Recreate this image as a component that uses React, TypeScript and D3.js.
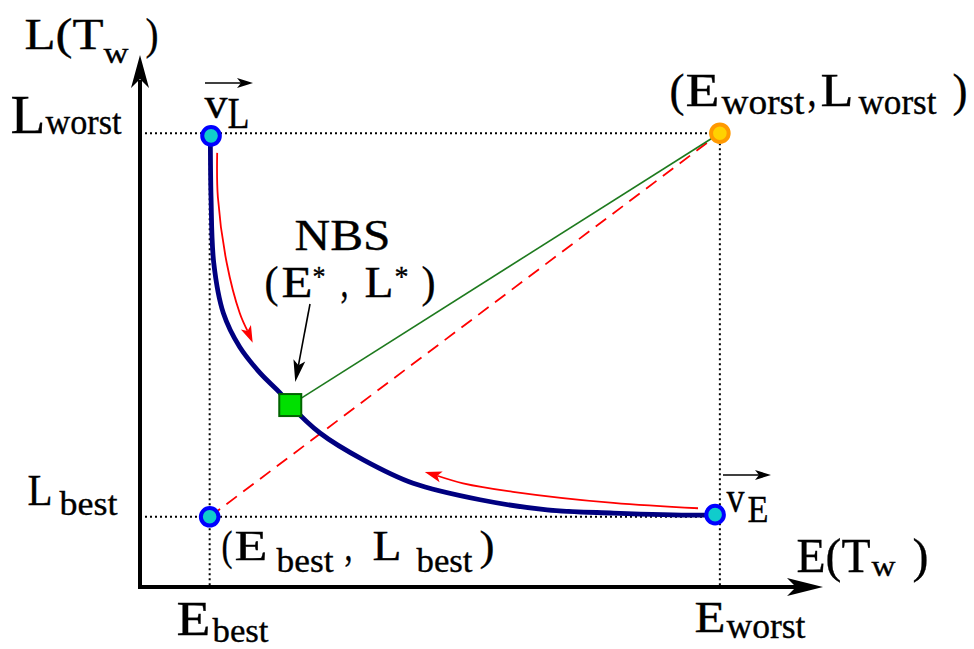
import React from "react";
import * as d3 from "d3";

// Reference levels on each axis
const E_BEST = 10.2;
const E_WORST = 84.9;
const L_BEST = 13.2;
const L_WORST = 85.3;

// Pareto front from v_L (best latency) to v_E (best energy)
const frontE = [10.3, 10.4, 10.8, 12.2, 14.6, 17.6, 20.5, 22.0, 26.4, 32.7, 40.0, 49.8, 59.6, 69.3, 81.6, 84.2];
const frontL = [84.7, 73.3, 60.9, 51.5, 45.1, 40.2, 36.5, 34.2, 28.9, 23.9, 19.5, 16.4, 14.5, 13.9, 13.5, 13.6];

// Nash bargaining solution
const nbsE = 22.0;
const nbsL = 34.2;

// Search-direction arrows alongside the front
const sweepDownE = [11.3, 11.4, 12.7, 14.6, 16.5];
const sweepDownL = [81.6, 73.3, 60.9, 51.5, 45.9];
const sweepLeftE = [81.7, 69.3, 54.6, 47.3, 41.7];
const sweepLeftL = [14.8, 15.8, 17.9, 19.5, 21.6];

// Extreme points
const vL = { e: 10.4, l: 84.8 };
const vE = { e: 84.2, l: 13.6 };

const W = 974;
const H = 649;
const FONT = "'Liberation Serif', 'Times New Roman', serif";

const x = d3.scaleLinear().domain([0, 100]).range([140, 823]);
const y = d3.scaleLinear().domain([0, 100]).range([587, 55]);

type Pt = [number, number];

// Filled arrowhead with a notched back, tip at (tx,ty) pointing along angle
function headPath(tx: number, ty: number, ang: number, len: number, hw: number, notch: number) {
  const c = Math.cos(ang), s = Math.sin(ang);
  const pt = (a: number, b: number): Pt => [tx - a * c - b * -s, ty - a * s - b * c];
  const p1 = pt(len, hw);
  const p2 = pt(len - notch, 0);
  const p3 = pt(len, -hw);
  return `M${tx},${ty}L${p1[0]},${p1[1]}L${p2[0]},${p2[1]}L${p3[0]},${p3[1]}Z`;
}

const zip = (a: number[], b: number[]): Pt[] => a.map((v, i) => [x(v), y(b[i])]);

const frontLine = d3.line<Pt>().curve(d3.curveCatmullRom.alpha(0.5));

type Piece = { t: string; x0: number; x1: number; b: number; s: number };

// Text runs: glyph string, left/right ink edges, baseline, font size
const labels: Piece[][] = [
  [
    { t: "L(T", x0: 25, x1: 103, b: 49, s: 44 },
    { t: "w", x0: 104, x1: 128, b: 63, s: 30 },
    { t: ")", x0: 146, x1: 158, b: 49, s: 44 },
  ],
  [
    { t: "L", x0: 11, x1: 45, b: 133, s: 54 },
    { t: "worst", x0: 46, x1: 121, b: 134, s: 36 },
  ],
  [
    { t: "v", x0: 205, x1: 227, b: 118, s: 44 },
    { t: "L", x0: 228, x1: 249, b: 128, s: 44 },
  ],
  [
    { t: "(", x0: 670, x1: 684, b: 106, s: 46 },
    { t: "E", x0: 686, x1: 719, b: 106, s: 46 },
    { t: "worst", x0: 722, x1: 804, b: 114, s: 35 },
    { t: ",", x0: 808, x1: 816, b: 106, s: 46 },
    { t: "L", x0: 821, x1: 853, b: 106, s: 46 },
    { t: "worst", x0: 859, x1: 936, b: 114, s: 35 },
    { t: ")", x0: 953, x1: 967, b: 106, s: 46 },
  ],
  [{ t: "NBS", x0: 295, x1: 390, b: 250, s: 44 }],
  [
    { t: "(", x0: 265, x1: 278, b: 297, s: 44 },
    { t: "E", x0: 282, x1: 312, b: 297, s: 44 },
    { t: "*", x0: 313, x1: 325, b: 286, s: 30 },
    { t: ",", x0: 341, x1: 348, b: 297, s: 44 },
    { t: "L", x0: 365, x1: 393, b: 297, s: 44 },
    { t: "*", x0: 395, x1: 408, b: 286, s: 30 },
    { t: ")", x0: 422, x1: 435, b: 297, s: 44 },
  ],
  [
    { t: "L", x0: 28, x1: 52, b: 505, s: 45 },
    { t: "best", x0: 60, x1: 117, b: 515, s: 34 },
  ],
  [
    { t: "(", x0: 222, x1: 232, b: 560, s: 43 },
    { t: "E", x0: 235, x1: 267, b: 560, s: 43 },
    { t: "best", x0: 277, x1: 333, b: 572, s: 34 },
    { t: ",", x0: 345, x1: 352, b: 560, s: 43 },
    { t: "L", x0: 373, x1: 401, b: 560, s: 43 },
    { t: "best", x0: 417, x1: 472, b: 572, s: 34 },
    { t: ")", x0: 480, x1: 494, b: 560, s: 43 },
  ],
  [
    { t: "E", x0: 177, x1: 210, b: 635, s: 48 },
    { t: "best", x0: 213, x1: 268, b: 642, s: 34 },
  ],
  [
    { t: "v", x0: 727, x1: 744, b: 512, s: 44 },
    { t: "E", x0: 748, x1: 768, b: 522, s: 38 },
  ],
  [
    { t: "E(T", x0: 797, x1: 870, b: 572, s: 49 },
    { t: "w", x0: 872, x1: 895, b: 576, s: 30 },
    { t: ")", x0: 913, x1: 928, b: 572, s: 49 },
  ],
  [
    { t: "E", x0: 695, x1: 725, b: 632, s: 44 },
    { t: "worst", x0: 727, x1: 805, b: 638, s: 35 },
  ],
];

function Arrow({ pts, color, width, len, hw, notch }: { pts: Pt[]; color: string; width: number; len: number; hw: number; notch: number }) {
  const n = pts.length;
  const tip = pts[n - 1];
  const prev = pts[n - 2];
  const ang = Math.atan2(tip[1] - prev[1], tip[0] - prev[0]);
  const shaftEnd: Pt = [tip[0] - Math.cos(ang) * (len - notch), tip[1] - Math.sin(ang) * (len - notch)];
  const shaft = [...pts.slice(0, n - 1), shaftEnd];
  const gen = n > 2 ? d3.line<Pt>().curve(d3.curveCatmullRom.alpha(0.5)) : d3.line<Pt>();
  return (
    <g>
      <path d={gen(shaft) || ""} fill="none" stroke={color} strokeWidth={width} />
      <path d={headPath(tip[0], tip[1], ang, len, hw, notch)} fill={color} />
    </g>
  );
}

export default function App() {
  const x0 = x(0), y0 = y(0);
  const xe = x(100), yt = y(100);
  const corner: Pt = [x(E_WORST), y(L_WORST)];
  const dot = { stroke: "#000", strokeWidth: 2, strokeDasharray: "2,3", fill: "none" };

  return (
    <svg width={W} height={H} style={{ position: "absolute", left: 0, top: 0, background: "#fff" }}>
      {/* reference grid of best/worst levels */}
      <line x1={x0} x2={x(E_WORST)} y1={y(L_WORST)} y2={y(L_WORST)} {...dot} />
      <line x1={x0} x2={x(vE.e)} y1={y(L_BEST)} y2={y(L_BEST)} {...dot} />
      <line x1={x(E_BEST)} x2={x(E_BEST)} y1={y(L_WORST)} y2={y0} {...dot} />
      <line x1={x(E_WORST)} x2={x(E_WORST)} y1={y(L_WORST)} y2={y0} {...dot} />

      {/* utopia-to-disagreement diagonal and NBS link */}
      <line x1={x(E_BEST)} y1={y(L_BEST)} x2={corner[0]} y2={corner[1]} stroke="#ff0000" strokeWidth={1.8} strokeDasharray="13,8" />
      <line x1={x(nbsE)} y1={y(nbsL)} x2={corner[0]} y2={corner[1]} stroke="#1e7a1e" strokeWidth={1.6} />

      {/* Pareto front */}
      <path d={frontLine(zip(frontE, frontL)) || ""} fill="none" stroke="#000080" strokeWidth={4.8} strokeLinecap="round" />

      {/* search directions */}
      <Arrow pts={zip(sweepDownE, sweepDownL)} color="#ff0000" width={1.8} len={17} hw={5.5} notch={4} />
      <Arrow pts={zip(sweepLeftE, sweepLeftL)} color="#ff0000" width={1.8} len={17} hw={5.5} notch={4} />

      {/* pointer to the NBS */}
      <Arrow pts={[[310, 304], [x(nbsE) + 5, y(nbsL) - 23]]} color="#000" width={1.6} len={22} hw={6} notch={5} />

      {/* points */}
      {[
        [E_BEST, L_BEST],
        [vL.e, vL.l],
        [vE.e, vE.l],
      ].map(([e, l], i) => (
        <circle key={i} cx={x(e)} cy={y(l)} r={8.8} fill="#10cccc" stroke="#0000ff" strokeWidth={4} />
      ))}
      <circle cx={corner[0]} cy={corner[1]} r={8.8} fill="#ffd200" stroke="#ff9900" strokeWidth={4} />
      <rect x={x(nbsE) - 11} y={y(nbsL) - 11} width={22} height={22} fill="#00e000" stroke="#006400" strokeWidth={2} />

      {/* vector arrows over v_L and v_E */}
      <Arrow pts={[[205, 83], [253, 83]]} color="#000" width={1.6} len={16} hw={5} notch={4} />
      <Arrow pts={[[723, 475], [771, 475]]} color="#000" width={1.6} len={16} hw={5} notch={4} />

      {/* axes */}
      <line x1={x0} y1={y0 + 2} x2={x0} y2={yt + 25} stroke="#000" strokeWidth={4} />
      <path d={headPath(x0, yt, -Math.PI / 2, 33, 9, 9)} fill="#000" />
      <line x1={x0 - 2} y1={y0} x2={xe - 25} y2={y0} stroke="#000" strokeWidth={4} />
      <path d={headPath(xe, y0, 0, 36, 9, 9)} fill="#000" />

      {/* labels */}
      {labels.map((row, i) => (
        <g key={i}>
          {row.map((p, j) => (
            <text
              key={j}
              x={p.x0 - 0.5}
              y={p.b}
              fontFamily={FONT}
              fontSize={p.s}
              fill="#000"
              stroke="#000"
              strokeWidth={0.35}
              textLength={p.x1 - p.x0 + 1}
              lengthAdjust="spacingAndGlyphs"
            >
              {p.t}
            </text>
          ))}
        </g>
      ))}
    </svg>
  );
}
